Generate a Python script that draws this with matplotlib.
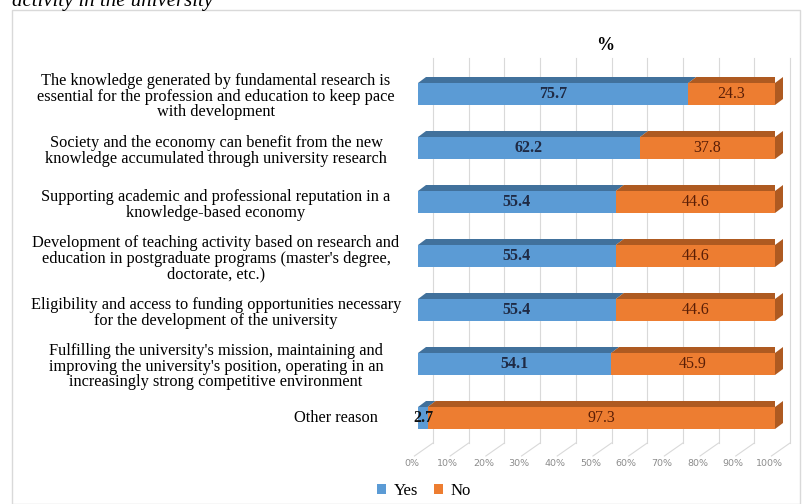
import matplotlib
matplotlib.use("Agg")
import matplotlib.pyplot as plt
from matplotlib.patches import Polygon, Rectangle
from matplotlib.transforms import ScaledTranslation, blended_transform_factory

categories = [
    "The knowledge generated by fundamental research is\nessential for the profession and education to keep pace\nwith development",
    "Society and the economy can benefit from the new\nknowledge accumulated through university research",
    "Supporting academic and professional reputation in a\nknowledge-based economy",
    "Development of teaching activity based on research and\neducation in postgraduate programs (master's degree,\ndoctorate, etc.)",
    "Eligibility and access to funding opportunities necessary\nfor the development of the university",
    "Fulfilling the university's mission, maintaining and\nimproving the university's position, operating in an\nincreasingly strong competitive environment",
    "Other reason",
]
yes_vals = [75.7, 62.2, 55.4, 55.4, 55.4, 54.1, 2.7]
no_vals = [24.3, 37.8, 44.6, 44.6, 44.6, 45.9, 97.3]
tick_vals = [0, 10, 20, 30, 40, 50, 60, 70, 80, 90, 100]
tick_labels = [f"{t}%" for t in tick_vals]

BLUE = "#5B9BD5"
BLUE_D = "#41719C"
ORANGE = "#ED7D31"
ORANGE_D = "#AE5A21"
SERIF = "Liberation Serif"

W, H = 805, 504
fig = plt.figure(figsize=(W / 100, H / 100), dpi=100)

# frame
fig.patches.append(Rectangle((12 / W, 0), (800 - 12) / W, 1 - 10 / H, transform=fig.transFigure,
                             fill=False, edgecolor="#D9D9D9", linewidth=1.0))
# cut-off title (cut at the top edge as in the source)
fig.text(12 / W, 1 - 6 / H, "activity in the university", family=SERIF, style="italic",
         fontsize=15, va="baseline", ha="left")

px_per_unit_x = 357 / 100
ax_top, ax_bot = 40, 452
y0, step = 94, 54
ax = fig.add_axes([418 / W, 1 - ax_bot / H, 357 / W, (ax_bot - ax_top) / H])
ax.set_xlim(0, 100)
ax.set_ylim((ax_bot - y0) / step, (ax_top - y0) / step)
for s in ax.spines.values():
    s.set_visible(False)
ax.set_yticks([])
ax.tick_params(axis="x", length=0, pad=5, labelsize=6.8, labelcolor="#8C8C8C")
ax.set_xticks(tick_vals)
ax.set_xticklabels(tick_labels, family="DejaVu Sans")
for lbl in ax.get_xticklabels():
    lbl.set_transform(lbl.get_transform() + ScaledTranslation(-6 / 100, 0, fig.dpi_scale_trans))

# 3D-like gridlines
back_dx = 15 / px_per_unit_x
g_top = (58 - y0) / step
g_bot = (443 - y0) / step
g_front = (456 - y0) / step
for t in tick_vals:
    ax.plot([t + back_dx, t + back_dx], [g_top, g_bot], color="#D9D9D9", lw=0.8, zorder=0, clip_on=False)
    ax.plot([t + back_dx, t - 1.0], [g_bot, g_front], color="#D9D9D9", lw=0.8, zorder=0, clip_on=False)

ys = list(range(len(categories)))
bh = 22 / step
b_yes = ax.barh(ys, yes_vals, height=bh, color=BLUE, zorder=3, label="Yes")
b_no = ax.barh(ys, no_vals, left=yes_vals, height=bh, color=ORANGE, zorder=3, label="No")

# depth faces
ddx = 8 / px_per_unit_x
ddy = 6 / step
for y, yv, nv in zip(ys, yes_vals, no_vals):
    top = y - bh / 2
    bot = y + bh / 2
    ax.add_patch(Polygon([(0, top), (yv, top), (yv + ddx, top - ddy), (ddx, top - ddy)],
                         closed=True, facecolor=BLUE_D, edgecolor="none", zorder=3))
    ax.add_patch(Polygon([(yv, top), (yv + nv, top), (yv + nv + ddx, top - ddy), (yv + ddx, top - ddy)],
                         closed=True, facecolor=ORANGE_D, edgecolor="none", zorder=3))
    end = yv + nv
    ax.add_patch(Polygon([(end, top), (end + ddx, top - ddy), (end + ddx, bot - ddy), (end, bot)],
                         closed=True, facecolor=ORANGE_D, edgecolor="none", zorder=3, clip_on=False))
    ax.text(yv / 2 if yv > 5 else 1.6, y, f"{yv}", ha="center", va="center", family=SERIF,
            fontsize=11.5, fontweight="bold", color="#1F2A44" if yv > 5 else "#111111", zorder=5)
    ax.text(yv + nv / 2, y, f"{nv}", ha="center", va="center", family=SERIF,
            fontsize=11.5, color="#5A1E06", zorder=5)

# category labels
tr = blended_transform_factory(fig.transFigure, ax.transData)
for i, (y, cat) in enumerate(zip(ys, categories)):
    if i == len(categories) - 1:
        ax.text(378 / W, y, cat, transform=tr, ha="right", va="center", family=SERIF, fontsize=11.8)
    else:
        ax.text(216 / W, y + 0.05, cat, transform=tr, ha="center", va="center", family=SERIF,
                fontsize=11.8, linespacing=0.97, multialignment="center")

fig.text(605 / W, 1 - 46 / H, "%", family=SERIF, fontweight="bold", fontsize=13, ha="center", va="center")

leg = fig.legend(handles=[b_yes, b_no], labels=["Yes", "No"], loc="center", ncol=2,
                 bbox_to_anchor=(424 / W, 1 - 491 / H), frameon=False,
                 prop={"family": SERIF, "size": 12}, handlelength=0.55, handleheight=0.55,
                 handletextpad=0.5, columnspacing=0.9)

fig.savefig("out.png", dpi=100)
